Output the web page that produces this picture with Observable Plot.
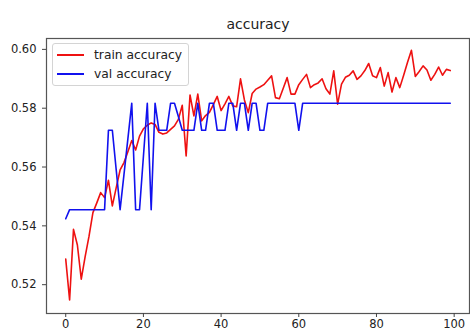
<!DOCTYPE html>
<html><head><meta charset="utf-8">
<script src="https://cdn.jsdelivr.net/npm/d3@7"></script>
<script src="https://cdn.jsdelivr.net/npm/@observablehq/plot@0.6"></script>
<style>
html,body{margin:0;padding:0;background:#fff;}
#wrap{position:relative;width:470px;height:331px;font-family:"DejaVu Sans",sans-serif;}
#legend{position:absolute;left:52px;top:43px;width:137px;height:43px;border:1px solid #d4d4d4;border-radius:3px;background:rgba(255,255,255,0.85);box-sizing:border-box;}
.item{position:absolute;left:0;height:18px;display:flex;align-items:center;font-size:12.3px;color:#222;white-space:nowrap;}
.item svg{margin-left:4px;margin-right:10px;}
</style></head><body>
<div id="wrap"><div id="legend"></div></div>
<script>
const trainAcc = [
0.5287,0.5148,0.5388,0.5335,0.5219,0.5295,0.5365,0.5445,0.5478,0.5513,
0.5496,0.5555,0.5468,0.5530,0.5590,0.5615,0.5652,0.5690,0.5658,0.5705,
0.5730,0.5742,0.5750,0.5745,0.5718,0.5712,0.5716,0.5728,0.5740,0.5762,
0.5810,0.5638,0.5845,0.5774,0.5848,0.5757,0.5775,0.5786,0.5812,0.5840,
0.5792,0.5815,0.5840,0.5808,0.5805,0.5900,0.5828,0.5785,0.5850,0.5865,
0.5872,0.5880,0.5895,0.5910,0.5836,0.5832,0.5868,0.5904,0.5848,0.5848,
0.5880,0.5898,0.5915,0.5870,0.5880,0.5886,0.5900,0.5866,0.5848,0.5927,
0.5814,0.5882,0.5905,0.5912,0.5927,0.5898,0.5910,0.5928,0.5952,0.5910,
0.5904,0.5938,0.5875,0.5921,0.5855,0.5904,0.5870,0.5912,0.5956,0.5997,
0.5908,0.5925,0.5944,0.5930,0.5895,0.5915,0.5940,0.5912,0.5932,0.5928];
const valAcc = [
0.5424,0.5455,0.5455,0.5455,0.5455,0.5455,0.5455,0.5455,0.5455,0.5455,
0.5455,0.5725,0.5725,0.5590,0.5455,0.5575,0.5696,0.5817,0.5455,0.5455,
0.5636,0.5817,0.5455,0.5817,0.5725,0.5725,0.5725,0.5817,0.5817,0.5772,
0.5725,0.5725,0.5725,0.5725,0.5817,0.5725,0.5725,0.5817,0.5817,0.5725,
0.5725,0.5725,0.5817,0.5817,0.5725,0.5817,0.5817,0.5725,0.5817,0.5817,
0.5725,0.5725,0.5817,0.5817,0.5817,0.5817,0.5817,0.5817,0.5817,0.5817,
0.5725,0.5817,0.5817,0.5817,0.5817,0.5817,0.5817,0.5817,0.5817,0.5817,
0.5817,0.5817,0.5817,0.5817,0.5817,0.5817,0.5817,0.5817,0.5817,0.5817,
0.5817,0.5817,0.5817,0.5817,0.5817,0.5817,0.5817,0.5817,0.5817,0.5817,
0.5817,0.5817,0.5817,0.5817,0.5817,0.5817,0.5817,0.5817,0.5817,0.5817];
const seriesNames = ["train accuracy", "val accuracy"];
const seriesColors = ["#ee1111", "#1111ee"];
const xTicks = [0, 20, 40, 60, 80, 100];
const yTicks = [0.52, 0.54, 0.56, 0.58, 0.60];
const titleText = "accuracy";

const rows = [];
seriesNames.forEach((name, s) => {
  const vals = s === 0 ? trainAcc : valAcc;
  vals.forEach((v, i) => rows.push({epoch: i, acc: v, series: name}));
});

const chart = Plot.plot({
  width: 470, height: 331,
  marginLeft: 46, marginRight: 1, marginTop: 38, marginBottom: 18,
  style: {fontFamily: "DejaVu Sans", fontSize: "11.5px", color: "#222", background: "transparent"},
  x: {domain: [-4.95, 103.95]},
  y: {domain: [0.5102, 0.6037]},
  color: {domain: seriesNames, range: seriesColors},
  marks: [
    Plot.line(rows, {x: "epoch", y: "acc", z: "series", stroke: "series", strokeWidth: 1.6}),
    Plot.frame({stroke: "#555", strokeWidth: 1.2}),
    Plot.axisX({ticks: xTicks, tickSize: 4, tickPadding: 2, label: null, tickFormat: d => String(d), stroke: "#444"}),
    Plot.axisY({ticks: yTicks, tickSize: 4, tickPadding: 6, label: null, tickFormat: d3.format(".2f"), stroke: "#444"}),
    Plot.text([titleText], {frameAnchor: "top", lineAnchor: "middle", dy: -14, fontSize: 14, fill: "#222"})
  ]
});
document.getElementById("wrap").prepend(chart);

const legend = document.getElementById("legend");
seriesNames.forEach((name, i) => {
  const item = document.createElement("div");
  item.className = "item";
  item.style.top = (i === 0 ? 1.5 : 20.5) + "px";
  item.innerHTML = `<svg width="27" height="4"><line x1="0" y1="2" x2="27" y2="2" stroke="${seriesColors[i]}" stroke-width="2"/></svg><span>${name}</span>`;
  legend.appendChild(item);
});
</script>
</body></html>
